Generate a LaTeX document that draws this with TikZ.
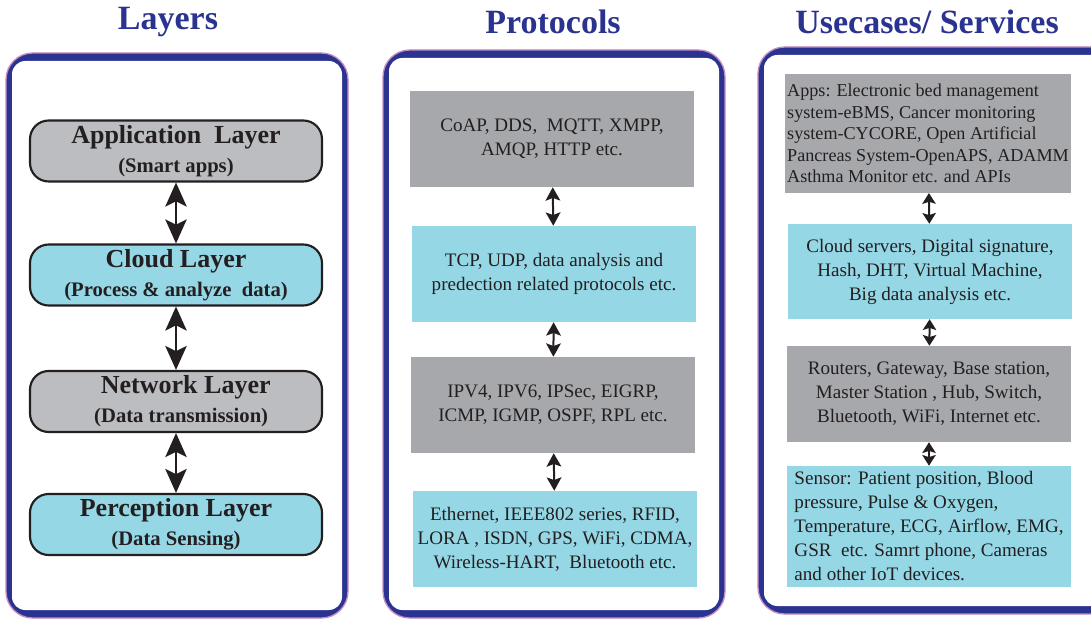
\documentclass[tikz,border=0pt]{standalone}
\usepackage{fontspec}
\setmainfont{Liberation Serif}
\usetikzlibrary{arrows.meta,positioning}
\definecolor{navy}{RGB}{43,51,145}
\definecolor{pinkline}{RGB}{196,140,194}
\definecolor{layergray}{RGB}{188,189,192}
\definecolor{boxgray}{RGB}{167,168,172}
\definecolor{boxcyan}{RGB}{150,215,230}
\definecolor{ink}{RGB}{35,31,32}

\tikzset{
  title/.style={text=navy, font=\fontsize{25.5}{30}\selectfont\bfseries},
  layer/.style={draw=ink, line width=1.6pt, rounded corners=14pt, minimum width=219pt,
    minimum height=45.75pt, align=center, text=ink, inner sep=0pt, font=\bfseries},
  proto/.style={minimum width=213pt, minimum height=72pt, align=center, text=ink,
    inner sep=2pt, font=\fontsize{14.3}{18}\selectfont},
  bigarrow/.style={{Stealth[length=18pt,width=16pt,inset=4pt]}-{Stealth[length=18pt,width=16pt,inset=4pt]},
    line width=2pt, draw=ink},
  smallarrow/.style={{Stealth[length=10pt,width=11pt,inset=2pt]}-{Stealth[length=10pt,width=11pt,inset=2pt]},
    line width=1.5pt, draw=ink},
  usearrow/.style={{Stealth[length=8pt,width=10pt,inset=1.5pt]}-{Stealth[length=8pt,width=10pt,inset=1.5pt]},
    line width=1.5pt, draw=ink}
}
\newcommand{\layername}[1]{{\fontsize{19.5}{22}\selectfont\bfseries #1}}
\newcommand{\layerrole}[1]{{\fontsize{15.5}{18}\selectfont\bfseries #1}}

\begin{document}
\begin{tikzpicture}[x=0.75pt,y=-0.75pt]
\useasboundingbox (0,0) rectangle (1091,620);
\clip (0,0) rectangle (1091,620);

% panels
\foreach \xa/\ya/\xb/\yb in {6/53/348/618, 383/50/725/618, 758/47/1120/614}{
  \fill[navy, rounded corners=20pt] (\xa,\ya) rectangle (\xb,\yb);
  \fill[white, rounded corners=10pt] (\xa+6,\ya+8) rectangle (\xb-6,\yb-8);
  \draw[pinkline, line width=1pt, rounded corners=20pt] (\xa,\ya) rectangle (\xb,\yb);
}

% titles
\node[title] (t1) at (168,22) {Layers};
\node[title] (t2) at (553,22) {Protocols};
\node[title] (t3) at (927,22) {Usecases/ Services};

% layers
\node[layer, fill=layergray] (app) at (176,151) {\layername{Application\ \ Layer}\\[6pt]\layerrole{(Smart apps)}};
\node[layer, fill=boxcyan] (cloud) at (176,275) {\layername{Cloud Layer}\\[6pt]\layerrole{(Process \& analyze\ \ data)}};
\node[layer, fill=layergray] (net) at (176,401.5) {\layername{\ \ \ Network Layer}\\[6pt]\layerrole{\ \ (Data transmission)}};
\node[layer, fill=boxcyan] (perc) at (176,524.5) {\layername{Perception Layer}\\[6pt]\layerrole{(Data Sensing)}};
\draw[bigarrow] (app) -- (cloud);
\draw[bigarrow] (cloud) -- (net);
\draw[bigarrow] (net) -- (perc);

% protocols
\node[proto, fill=boxgray] (p1) at (552,139) {CoAP, DDS,\ \ MQTT, XMPP,\\AMQP, HTTP etc.};
\node[proto, fill=boxcyan] (p2) at (554,274) {TCP, UDP, data analysis and\\predection related protocols etc.};
\node[proto, fill=boxgray] (p3) at (553,405) {IPV4, IPV6, IPSec, EIGRP,\\ICMP, IGMP, OSPF, RPL etc.};
\node[proto, fill=boxcyan] (p4) at (555,539) {Ethernet, IEEE802 series, RFID,\\LORA , ISDN, GPS, WiFi, CDMA,\\Wireless-HART,\ \ Bluetooth etc.};
\draw[smallarrow] (p1) -- (p2);
\draw[smallarrow] (p2) -- (p3);
\draw[smallarrow] (p3) -- (p4);

% use cases
\node[proto, fill=boxgray, minimum height=89pt, align=left, font=\fontsize{13.6}{16.2}\selectfont] (u1) at (928,133.5)
  {Apps: Electronic bed management\\system-eBMS, Cancer monitoring\\system-CYCORE, Open Artificial\\Pancreas System-OpenAPS, ADAMM\\Asthma Monitor etc. and APIs};
\node[proto, fill=boxcyan, minimum height=71.25pt] (u2) at (930,271.5)
  {Cloud servers, Digital signature,\\Hash, DHT, Virtual Machine,\\Big data analysis etc.};
\node[proto, fill=boxgray] (u3) at (929,394)
  {Routers, Gateway, Base station,\\Master Station , Hub, Switch,\\Bluetooth, WiFi, Internet etc.};
\node[proto, fill=boxcyan, minimum height=90.75pt, align=left] (u4) at (929,526.5)
  {Sensor: Patient position, Blood\\pressure, Pulse \& Oxygen,\\Temperature, ECG, Airflow, EMG,\\GSR\ \ etc. Samrt phone, Cameras\\and other IoT devices.};
\draw[usearrow] (u1) -- (u2);
\draw[usearrow] (u2) -- (u3);
\draw[usearrow] (u3) -- (u4);

\end{tikzpicture}
\end{document}
